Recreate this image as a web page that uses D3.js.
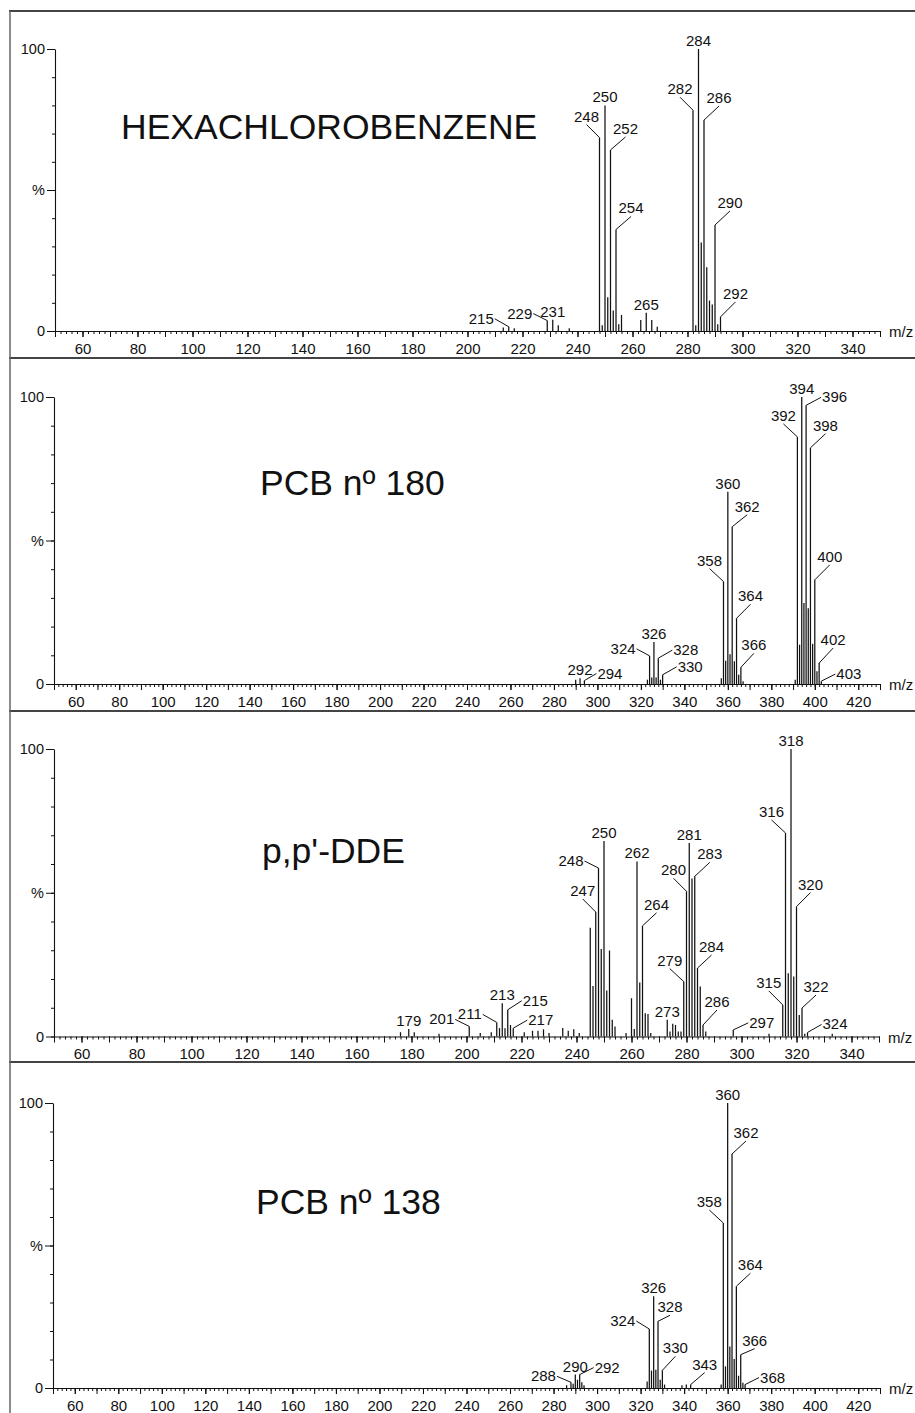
<!DOCTYPE html>
<html><head><meta charset="utf-8">
<script src="https://cdn.jsdelivr.net/npm/d3@7"></script>
<style>
body{margin:0;background:#fff}
svg{display:block}
text{font-family:"Liberation Sans",Arial,sans-serif;fill:#111}
</style></head>
<body><svg id="chart" width="915" height="1413"></svg>
<script>
// ---------------- DATA ----------------
const titles = ["HEXACHLOROBENZENE", "PCB n\u00BA 180", "p,p'-DDE", "PCB n\u00BA 138"];

const ticksA = [60,80,100,120,140,160,180,200,220,240,260,280,300,320,340];
const ticksB = [60,80,100,120,140,160,180,200,220,240,260,280,300,320,340,360,380,400,420];
const yTickLabels = ["0", "%", "100"];

// [m/z, relative intensity %]
const hcbPeaks = [[213,1.2],[215,1.5],[217,1],[229,3.7],[231,4],[233,2],[237,1],
  [248,68.6],[249,2],[250,80],[251,12],[252,64.2],[253,7.3],[254,36],[255,2.4],[256,5.7],
  [263,3.9],[265,6.5],[267,3.9],[269,1.5],
  [282,78.3],[283,2],[284,100],[285,31.4],[286,74.8],[287,22.6],[288,10.8],[289,9.4],
  [290,37.6],[291,2.4],[292,5]];
const hcbLabels = [215,229,231,248,250,252,254,265,282,284,286,290,292];

const pcb180Peaks = [[290,1.5],[292,2],[294,1.2],
  [323,1.5],[324,9.8],[325,2.3],[326,14.6],[327,2.3],[328,9],[329,1.5],[330,3.2],
  [357,2],[358,35.7],[359,8.1],[360,67],[361,10.4],[362,54.8],[363,7.9],[364,22.9],[365,3.2],[366,5.8],[367,1],
  [391,1.5],[392,86.1],[393,13.7],[394,100],[395,28.2],[396,97.1],[397,26.4],[398,82.3],[399,14],
  [400,36.3],[401,4.4],[402,7.3],[403,1]];
const pcb180Labels = [292,294,324,326,328,330,358,360,362,364,366,392,394,396,398,400,402,403];

const ddePeaks = [[176,1.5],[179,2.6],[181,1.5],[190,1],[201,3.5],[205,1.2],[209,1.5],
  [211,4.9],[212,2.9],[213,11.6],[214,2.9],[215,9.3],[216,4],[217,2.9],[221,1.5],[224,2],
  [226,2],[228,2.5],[230,1.2],[235,3],[237,2],[239,2.5],[241,1.2],
  [245,37.8],[246,17.6],[247,43.3],[248,58.6],[249,30.4],[250,68],[251,16],[252,29.9],[253,5.8],[254,3.5],
  [258,1.2],[260,13.3],[261,2.6],[262,60.9],[263,18.8],[264,38.5],[265,8.1],[266,7.8],[267,1.2],
  [273,5.8],[274,1.7],[275,4.4],[276,4],[277,1.7],[278,1.7],[279,19.1],[280,50.5],[281,67.3],
  [282,55],[283,55.7],[284,23.8],[285,17.4],[286,4],[287,1.7],[297,2.3],[310,1],
  [315,11],[316,70.8],[317,22],[318,100],[319,20.9],[320,45.2],[321,7.5],[322,9.9],[323,1],[324,1.4],[333,1]];
const ddeLabels = [179,201,211,213,215,217,247,248,250,262,264,273,279,280,281,283,284,286,297,315,316,318,320,322,324];

const pcb138Peaks = [[286,1],[288,2],[289,1.5],[290,4.7],[291,2.9],[292,4.7],[293,2],[294,1],
  [323,2.3],[324,20.7],[325,6.1],[326,32.2],[327,6.4],[328,23.4],[329,2.9],[330,6.2],[331,1.2],
  [339,1],[341,1.2],[343,1.2],
  [357,1.2],[358,57.9],[359,7.6],[360,100],[361,14.6],[362,82.1],[363,10.2],[364,35.7],[365,4.3],
  [366,11.7],[367,1.8],[368,1.2]];
const pcb138Labels = [288,290,292,324,326,328,330,343,358,360,362,364,366,368];

// ---------------- LAYOUT (label placement: mode, leader dx, dy) ----------------
const hcbLayout = {284:["top"],250:["top"],248:["mid",-13,-13],252:["mid",15,-13],254:["mid",15,-13],
  282:["mid",-13,-13],286:["mid",15,-14],290:["mid",15,-14],292:["mid",15,-15],265:["top"],
  231:["top"],229:["end",-14,-7],215:["end",-14,-8]};
const pcb180Layout = {394:["top"],396:["start",15,-8],392:["mid",-14,-13],398:["mid",15,-14],
  400:["mid",15,-15],402:["mid",14,-15],403:["start",14,-7],360:["top"],362:["mid",15,-12],
  358:["mid",-14,-13],364:["mid",14,-14],366:["mid",13,-14],326:["top"],324:["end",-13,-7],
  328:["start",14,-8],330:["start",14,-8],292:["top"],294:["start",12,-7]};
const ddeLayout = {318:["top"],316:["mid",-14,-13],320:["mid",14,-14],315:["mid",-14,-14],
  322:["mid",14,-13],324:["start",14,-8],297:["start",15,-7],286:["mid",14,-15],284:["mid",14,-13],
  283:["mid",15,-14],281:["top"],280:["mid",-13,-13],279:["mid",-14,-13],273:["top"],262:["top"],
  264:["mid",14,-13],250:["top"],248:["end",-14,-7],247:["mid",-13,-13],213:["top"],
  215:["start",14,-9],211:["end",-14,-8],217:["start",14,-8],201:["end",-14,-7],179:["top"]};
const pcb138Layout = {360:["top"],362:["mid",14,-13],358:["mid",-14,-13],364:["mid",14,-13],
  366:["mid",14,-6],368:["start",14,-7],326:["top"],324:["end",-13,-8],328:["mid",12,-6],
  330:["mid",13,-14],343:["mid",14,-12],290:["top"],292:["start",14,-7],288:["end",-14,-6]};

const panels = [
  {title: titles[0], tx: 121, ty: 139, domain: [50,350], x0: 55, x1: 880, base: 331, top: 49,
   ticks: ticksA, peaks: hcbPeaks, labels: hcbLabels, layout: hcbLayout},
  {title: titles[1], tx: 260, ty: 495, domain: [50,430], x0: 54, x1: 880, base: 684, top: 397,
   ticks: ticksB, peaks: pcb180Peaks, labels: pcb180Labels, layout: pcb180Layout},
  {title: titles[2], tx: 262, ty: 863, domain: [50,350], x0: 54, x1: 879, base: 1036.5, top: 749,
   ticks: ticksA, peaks: ddePeaks, labels: ddeLabels, layout: ddeLayout},
  {title: titles[3], tx: 256, ty: 1214, domain: [50,430], x0: 53, x1: 880, base: 1388, top: 1103,
   ticks: ticksB, peaks: pcb138Peaks, labels: pcb138Labels, layout: pcb138Layout}
];

// ---------------- DRAW ----------------
const svg = d3.select("#chart");
svg.append("rect").attr("width",915).attr("height",1413).attr("fill","#fff");

// frame
[11, 358, 711, 1062].forEach(yy => {
  svg.append("line").attr("x1",9).attr("x2",915).attr("y1",yy).attr("y2",yy)
    .attr("stroke","#444").attr("stroke-width",2);
});
svg.append("line").attr("x1",10).attr("x2",10).attr("y1",11).attr("y2",1413)
  .attr("stroke","#666").attr("stroke-width",1.5);

function styleAxis(g){
  g.select(".domain").attr("stroke","#111").attr("stroke-width",1.1);
  g.selectAll(".tick line").attr("stroke","#111").attr("stroke-width",1);
  g.selectAll("text").attr("fill","#111").attr("font-family",'"Liberation Sans",Arial,sans-serif');
}

panels.forEach(p => {
  const g = svg.append("g");
  const x = d3.scaleLinear().domain(p.domain).range([p.x0, p.x1]);
  const y = d3.scaleLinear().domain([0,100]).range([p.base, p.top]);

  // x axis: minor ticks every 2, medium every 10, labels every 20
  const minor = d3.range(p.domain[0], p.domain[1] + 0.01, 2);
  const medium = d3.range(p.domain[0], p.domain[1] + 0.01, 10);
  g.append("g").attr("transform",`translate(0,${p.base})`)
    .call(d3.axisBottom(x).tickValues(minor).tickSize(3).tickSizeOuter(0).tickFormat(""))
    .call(styleAxis);
  g.append("g").attr("transform",`translate(0,${p.base})`)
    .call(d3.axisBottom(x).tickValues(medium).tickSize(6).tickSizeOuter(0).tickFormat(""))
    .call(a => a.select(".domain").remove()).call(styleAxis);
  g.append("g").attr("transform",`translate(0,${p.base})`)
    .call(d3.axisBottom(x).tickValues(p.ticks).tickSize(6).tickPadding(6).tickSizeOuter(0))
    .call(a => a.select(".domain").remove()).call(styleAxis)
    .selectAll("text").attr("font-size",15);

  // y axis
  g.append("g").attr("transform",`translate(${p.x0},0)`)
    .call(d3.axisLeft(y).tickValues(d3.range(0,101,10)).tickSize(3).tickSizeOuter(0).tickFormat(""))
    .call(styleAxis);
  g.append("g").attr("transform",`translate(${p.x0},0)`)
    .call(d3.axisLeft(y).tickValues([0,50,100]).tickSize(8).tickPadding(2).tickSizeOuter(0)
      .tickFormat((d,i) => yTickLabels[i]))
    .call(a => a.select(".domain").remove()).call(styleAxis)
    .selectAll("text").attr("font-size",14.5);

  // m/z label
  g.append("text").attr("x", p.x1 + 9).attr("y", p.base + 6).attr("font-size",15).text("m/z");

  // title
  g.append("text").attr("x", p.tx).attr("y", p.ty).attr("font-size",35.5).text(p.title);

  // peaks
  g.selectAll("line.pk").data(p.peaks).join("line").attr("class","pk")
    .attr("x1", d => x(d[0])).attr("x2", d => x(d[0]))
    .attr("y1", y(0)).attr("y2", d => y(d[1]))
    .attr("stroke","#111").attr("stroke-width",1.25);

  // labels
  const inten = new Map(p.peaks);
  p.labels.forEach(mz => {
    const L = p.layout[mz] || ["top"];
    const px = x(mz), py = y(inten.get(mz));
    if (L[0] === "top") {
      g.append("text").attr("x", px).attr("y", py - 3).attr("text-anchor","middle")
        .attr("font-size",15).text(mz);
      return;
    }
    const ex = px + L[1], ey = py + L[2];
    g.append("line").attr("x1", px).attr("y1", py).attr("x2", ex).attr("y2", ey)
      .attr("stroke","#111").attr("stroke-width",1);
    const t = g.append("text").attr("font-size",15).text(mz);
    if (L[0] === "mid") {
      t.attr("x", ex).attr("y", ey - 3).attr("text-anchor","middle");
    } else if (L[0] === "end") {
      t.attr("x", ex - 1).attr("y", ey + 5).attr("text-anchor","end");
    } else {
      t.attr("x", ex + 1).attr("y", ey + 5).attr("text-anchor","start");
    }
  });
});
</script></body></html>
